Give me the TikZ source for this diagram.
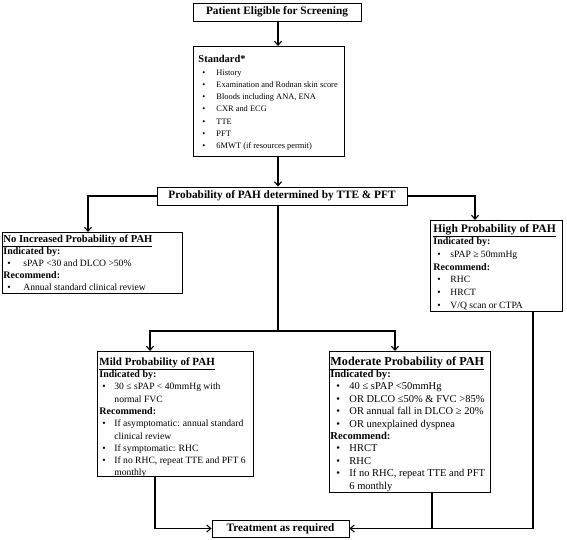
\documentclass[tikz,border=0pt]{standalone}
\usepackage{fontspec}
\setmainfont{Liberation Serif}
\usetikzlibrary{arrows.meta,calc}
\newlength\bulx \newlength\txtx \newlength\hdx
\newcommand\itm[1]{\par\noindent\hangindent=\txtx\hangafter=1\hbox to \txtx{\hskip\bulx\textbullet\hss}#1}
\newcommand\hd[1]{\par\noindent\hspace*{\hdx}{#1}}
\newcommand\ttl[2][11]{\hd{\fontsize{#1}{12.6}\selectfont\bfseries\underline{#2}}}
\newcommand\sub[2][10]{\hd{\fontsize{#1}{12.3}\selectfont\bfseries #2}}
% #1 width, #2 height, #3 top pad, #4 heading x, #5 bullet x, #6 text x, #7 body
\newcommand\bx[7]{\parbox[c][#2pt][t]{#1pt}{\setlength\hdx{#4pt}\setlength\bulx{#5pt}\setlength\txtx{#6pt}\fontsize{9.6}{12.3}\selectfont\raggedright\vspace*{#3pt}#7\par}}
\tikzset{
  box/.style={draw, line width=0.9pt, inner sep=0pt, anchor=north west},
  onebox/.style={draw, line width=0.9pt, inner sep=0pt, font=\fontsize{11.3}{13}\selectfont\bfseries},
  conn/.style={line width=1.1pt},
  arr/.style={line width=1.1pt, -{Straight Barb[length=4pt,width=7pt]}}
}
\begin{document}
\begin{tikzpicture}[x=1pt,y=-1pt]
\useasboundingbox (0,0) rectangle (567,539);
% single-line boxes
\node[onebox, minimum width=168pt, minimum height=18pt] (pat) at (277,12) {Patient Eligible for Screening};
\node[onebox, minimum width=250pt, minimum height=18pt] (prob) at (282,196) {Probability of PAH determined by TTE \& PFT};
\node[onebox, minimum width=137pt, minimum height=17pt] (treat) at (280.5,528.5) {Treatment as required};
% Standard
\node[box] (std) at (193,46) {\bx{151}{110}{9}{5}{9}{23}{%
  \hd{\fontsize{10.5}{12.3}\selectfont\bfseries Standard*}%
  \fontsize{8.4}{12.3}\selectfont
  \itm{History}
  \itm{Examination and Rodnan skin score}
  \itm{Bloods including ANA, ENA}
  \itm{CXR and ECG}
  \itm{TTE}
  \itm{PFT}
  \itm{6MWT (if resources permit)}}};
% No increased
\node[box] (noinc) at (2,232) {\bx{180}{61}{3}{1}{5}{21}{%
  \fontsize{9.6}{11.8}\selectfont
  \ttl[10.6]{No Increased Probability of PAH}
  \hd{\fontsize{10}{11.8}\selectfont\bfseries Indicated by:}
  \itm{sPAP <30 and DLCO >50\%}
  \hd{\fontsize{10}{11.8}\selectfont\bfseries Recommend:}
  \itm{Annual standard clinical review}}};
% High
\node[box] (high) at (430,220) {\bx{132}{91}{3.5}{3}{7}{20}{%
  \fontsize{9.6}{12.7}\selectfont
  \ttl[11.6]{High Probability of PAH}
  \sub{Indicated by:}
  \itm{sPAP ≥ 50mmHg}
  \sub{Recommend:}
  \itm{RHC}
  \itm{HRCT}
  \itm{V/Q scan or CTPA}}};
% Mild
\node[box] (mild) at (97,351) {\bx{156}{125}{6}{2}{5}{17}{%
  \ttl{Mild Probability of PAH}
  \sub{Indicated by:}
  \itm{30 ≤ sPAP < 40mmHg with\newline normal FVC}
  \sub{Recommend:}
  \itm{If asymptomatic: annual standard\newline clinical review}
  \itm{If symptomatic: RHC}
  \itm{If no RHC, repeat TTE and PFT 6\newline monthly}}};
% Moderate
\node[box] (mod) at (329,351) {\bx{161}{141}{5}{1}{7}{20}{%
  \fontsize{10.5}{12.4}\selectfont
  \ttl[12.2]{Moderate Probability of PAH}
  \sub[10.6]{Indicated by:}
  \itm{40 ≤ sPAP <50mmHg}
  \itm{OR DLCO ≤50\% \& FVC >85\%}
  \itm{OR annual fall in DLCO ≥ 20\%}
  \itm{OR unexplained dyspnea}
  \sub[10.6]{Recommend:}
  \itm{HRCT}
  \itm{RHC}
  \itm{If no RHC, repeat TTE and PFT\newline 6 monthly}}};
% helper coordinates
\coordinate (cx) at (278,0);
\coordinate (split) at (278,331);
\coordinate (noin) at ($(noinc.north west)+(86,0)$);
\coordinate (hiin) at ($(high.north west)+(45,0)$);
\coordinate (mildin) at ($(mild.north west)+(53,0)$);
\coordinate (modin) at ($(mod.north west)+(66,0)$);
\coordinate (mildout) at ($(mild.south west)+(58,0)$);
\coordinate (modout) at ($(mod.south west)+(103,0)$);
\coordinate (hiout) at ($(high.south west)+(103,0)$);
% connectors
\draw[arr] (pat.south -| cx) -- (std.north -| cx);
\draw[arr] (std.south -| cx) -- (prob.north -| cx);
\draw[arr] (prob.west) -| (noin);
\draw[arr] (prob.east) -| (hiin);
\draw[conn] (prob.south -| cx) -- (split);
\draw[arr] (split) -| (mildin);
\draw[arr] (split) -| (modin);
\draw[arr] (mildout) |- (treat.west);
\draw[arr] (modout) |- (treat.east);
\draw[conn] (hiout) |- (modout |- treat.east);
\end{tikzpicture}
\end{document}
